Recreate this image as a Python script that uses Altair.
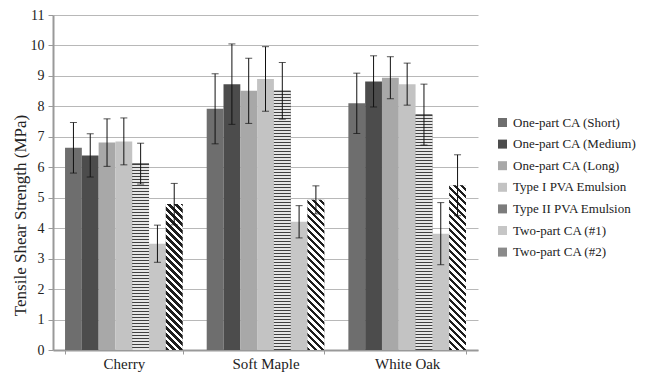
import altair as alt
import pandas as pd

woods = ["Cherry", "Soft Maple", "White Oak"]
series = [
    "One-part CA (Short)",
    "One-part CA (Medium)",
    "One-part CA (Long)",
    "Type I PVA Emulsion",
    "Type II PVA Emulsion",
    "Two-part CA (#1)",
    "Two-part CA (#2)",
]
# mean tensile shear strength (MPa), per wood: Cherry, Soft Maple, White Oak
short_mean = [6.64, 7.92, 8.10]
medium_mean = [6.39, 8.73, 8.82]
long_mean = [6.81, 8.51, 8.94]
pva1_mean = [6.85, 8.90, 8.73]
pva2_mean = [6.12, 8.51, 7.73]
two1_mean = [3.49, 4.21, 3.82]
two2_mean = [4.79, 4.93, 5.41]
# error bar half-lengths
short_err = [0.83, 1.15, 0.99]
medium_err = [0.71, 1.32, 0.84]
long_err = [0.78, 1.07, 0.69]
pva1_err = [0.77, 1.06, 0.69]
pva2_err = [0.67, 0.93, 1.00]
two1_err = [0.61, 0.53, 1.02]
two2_err = [0.68, 0.46, 1.00]
y_ticks = list(range(0, 12))

means = [short_mean, medium_mean, long_mean, pva1_mean, pva2_mean, two1_mean, two2_mean]
errs = [short_err, medium_err, long_err, pva1_err, pva2_err, two1_err, two2_err]

rows = []
for s, m, e in zip(series, means, errs):
    for w, v, d in zip(woods, m, e):
        rows.append({"wood": w, "series": s, "mean": v, "lo": v - d, "hi": v + d})
df = pd.DataFrame(rows)

FONT = "Liberation Serif"
W, H = 425, 335
YMAX = 11
PI, PO = 0.17, 0.085
step = W / (len(woods) - PI + 2 * PO)
sub_w = step * (1 - PI) / len(series)

colors = ["#6e6e6e", "#4c4c4c", "#a8a8a8", "#c3c3c3", "#7c7c7c", "#c6c6c6", "#8a8a8a"]

x_enc = alt.X(
    "wood:N",
    sort=woods,
    scale=alt.Scale(domain=woods, paddingInner=PI, paddingOuter=PO),
    axis=alt.Axis(
        title=None,
        labelAngle=0,
        labelFont=FONT,
        labelFontSize=15,
        labelColor="#222222",
        labelPadding=2,
        tickBand="extent",
        tickSize=4,
        tickColor="#999999",
        domainColor="#999999",
        domainWidth=2,
    ),
)
xo_enc = alt.XOffset("series:N", sort=series, scale=alt.Scale(domain=series))
y_scale = alt.Scale(domain=[0, YMAX], nice=False, zero=True)
y_axis = alt.Axis(
    values=y_ticks,
    tickCount=12,
    format="d",
    labelOverlap=False,
    title="Tensile Shear Strength (MPa)",
    titleFont=FONT,
    titleFontSize=17,
    titleFontWeight="normal",
    titleColor="#222222",
    titleX=-33,
    titleY=200,
    titleAngle=270,
    titleAlign="center",
    titleBaseline="middle",
    labelFont=FONT,
    labelFontSize=14,
    labelColor="#222222",
    labelPadding=4,
    tickSize=5,
    tickColor="#999999",
    domainColor="#999999",
    domainWidth=2,
    grid=True,
    gridColor="#b8b8b8",
    gridWidth=1,
)


def y_enc(field):
    return alt.Y(field, type="quantitative", scale=y_scale, axis=y_axis)


bars = (
    alt.Chart(df)
    .mark_bar()
    .encode(
        x=x_enc,
        xOffset=xo_enc,
        y=y_enc("mean"),
        color=alt.Color(
            "series:N",
            sort=series,
            scale=alt.Scale(domain=series, range=colors),
            legend=alt.Legend(
                title=None,
                orient="none",
                legendX=443,
                legendY=101,
                symbolType="square",
                symbolSize=81,
                symbolStrokeWidth=0,
                labelFont=FONT,
                labelFontSize=13,
                labelColor="#222222",
                labelOffset=4,
                labelLimit=300,
                rowPadding=7.6,
            ),
        ),
    )
)

layers = [bars]


def hstripe_grad(h, period=3.0):
    n = int(h // period) + 1
    stops = []
    for k in range(n):
        a = k * period / h
        b = (k * period + period / 2) / h
        c = (k + 1) * period / h
        a, b, c = min(a, 1), min(b, 1), min(c, 1)
        stops += [
            {"offset": a, "color": "#404040"},
            {"offset": b, "color": "#404040"},
            {"offset": b, "color": "#e6e6e6"},
            {"offset": c, "color": "#e6e6e6"},
        ]
    return {"gradient": "linear", "x1": 0, "y1": 0, "x2": 0, "y2": 1, "stops": stops}


def dstripe_grad(w, h, period=7.0):
    span = w + h
    kk = w * (w + h) / (w * w + h * h)
    n = int(span // period) + 1
    stops = []
    for k in range(n):
        a = min(k * period / span, 1)
        b = min((k * period + period * 0.5) / span, 1)
        c = min((k + 1) * period / span, 1)
        stops += [
            {"offset": a, "color": "#1e1e1e"},
            {"offset": b, "color": "#1e1e1e"},
            {"offset": b, "color": "#ffffff"},
            {"offset": c, "color": "#ffffff"},
        ]
    return {"gradient": "linear", "x1": 0, "y1": 1, "x2": kk, "y2": 1 - kk * h / w, "stops": stops}


for s in ["Type II PVA Emulsion", "Two-part CA (#2)"]:
    for w in woods:
        sub = df[(df.series == s) & (df.wood == w)]
        v = float(sub["mean"].iloc[0])
        hpx = v / YMAX * H
        grad = hstripe_grad(hpx) if s.startswith("Type II") else dstripe_grad(sub_w, hpx)
        layers.append(
            alt.Chart(sub)
            .mark_bar(fill=grad)
            .encode(x=x_enc, xOffset=xo_enc, y=y_enc("mean"))
        )

rule = alt.Chart(df).mark_rule(color="#111111", strokeWidth=1).encode(
    x=x_enc, xOffset=xo_enc, y=y_enc("lo"), y2="hi:Q"
)
cap_lo = alt.Chart(df).mark_tick(color="#111111", thickness=1, size=7).encode(
    x=x_enc, xOffset=xo_enc, y=y_enc("lo")
)
cap_hi = alt.Chart(df).mark_tick(color="#111111", thickness=1, size=7).encode(
    x=x_enc, xOffset=xo_enc, y=y_enc("hi")
)
layers += [rule, cap_lo, cap_hi]

chart = (
    alt.layer(*layers)
    .properties(
        width=W,
        height=H,
        autosize=alt.AutoSizeParams(type="none"),
        padding={"left": 45, "top": 7, "right": 163, "bottom": 25},
    )
    .configure_view(stroke=None)
    .configure_axis(grid=False)
    .configure_axisY(grid=True)
)

chart.save("out.html", embed_options={"renderer": "svg", "actions": False})
